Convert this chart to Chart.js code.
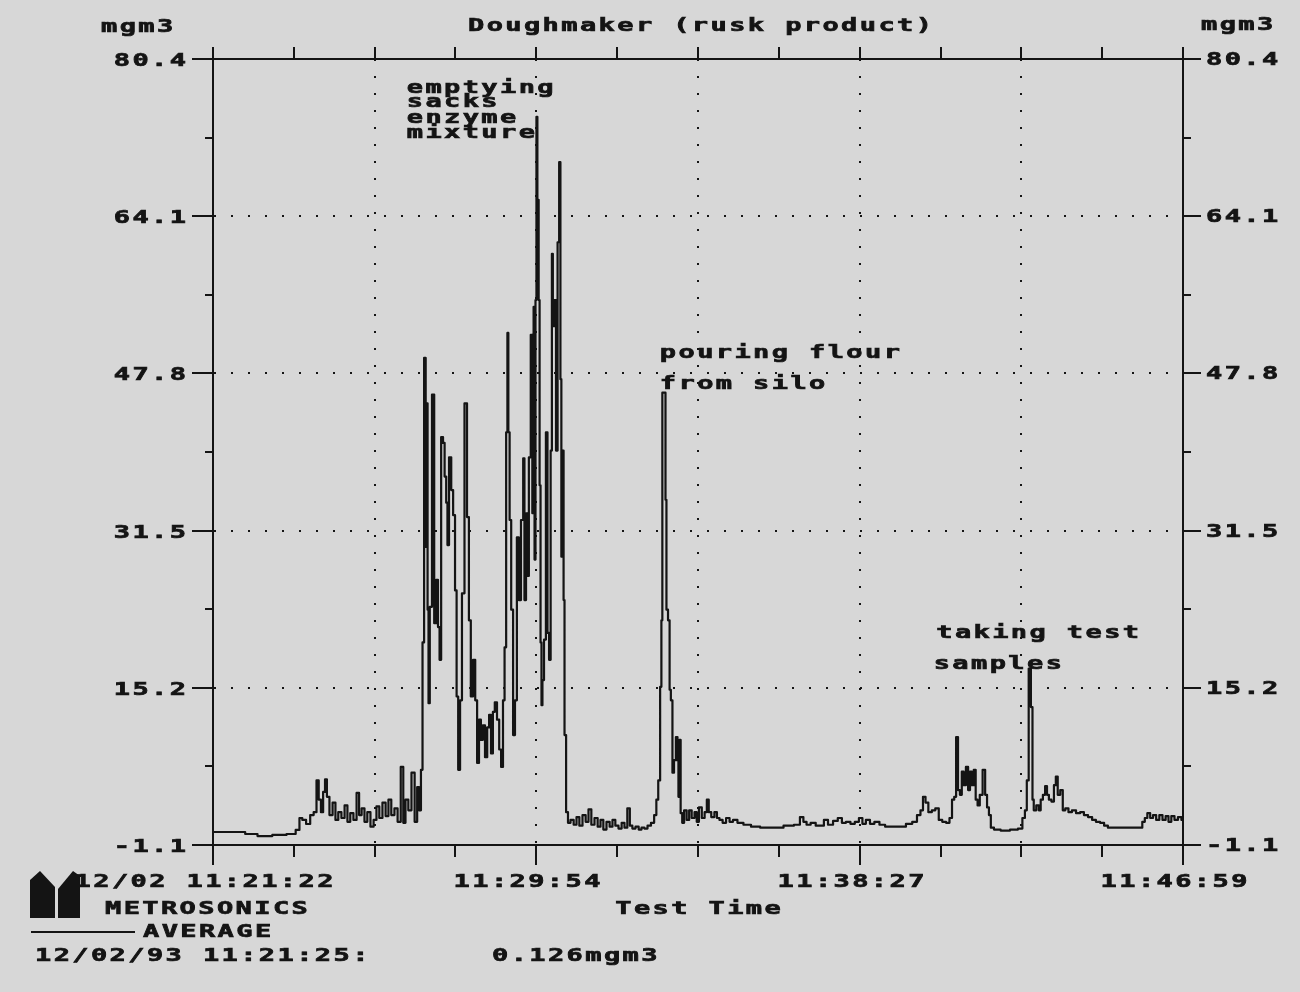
<!DOCTYPE html>
<html>
<head>
<meta charset="utf-8">
<title>Doughmaker (rusk product)</title>
<script src="https://cdn.jsdelivr.net/npm/chart.js@4.4.1/dist/chart.umd.min.js"></script>
<style>
  html, body { margin: 0; padding: 0; background: #d7d7d7; overflow: hidden; }
  #wrap { width: 1300px; height: 992px; position: relative; }
</style>
</head>
<body>
<div id="wrap"><canvas id="dustChart"></canvas></div>
<script>
// Metrosonics dust log - doughmaker, rusk product, 12/02/93 from 11:21:22
// seconds since start of the log
const elapsedSeconds = [
  0, 43, 59, 82, 106, 127, 135, 139, 144, 151,
  157, 162, 166, 169, 173, 176, 179, 182, 187, 192,
  196, 201, 206, 211, 215, 220, 225, 230, 233, 238,
  242, 247, 252, 257, 261, 266, 271, 276, 280, 285,
  290, 295, 300, 303, 307, 312, 317, 322, 325, 328,
  331, 333, 336, 338, 339, 341, 342, 345, 349, 352,
  355, 358, 360, 363, 366, 368, 371, 372, 376, 379,
  382, 385, 387, 390, 393, 396, 401, 404, 407, 410,
  414, 417, 420, 423, 426, 429, 433, 436, 439, 442,
  445, 448, 452, 455, 458, 461, 463, 466, 467, 469,
  471, 474, 477, 480, 483, 486, 490, 493, 494, 498,
  499, 502, 505, 507, 509, 510, 512, 513, 515, 517,
  518, 520, 521, 523, 526, 529, 531, 534, 536, 538,
  539, 542, 545, 547, 550, 551, 553, 555, 556, 558,
  561, 564, 569, 574, 578, 583, 588, 593, 597, 602,
  607, 612, 616, 621, 626, 631, 635, 640, 645, 650,
  654, 659, 662, 667, 672, 677, 681, 686, 691, 697,
  701, 704, 707, 710, 711, 713, 716, 718, 719, 723,
  724, 727, 729, 732, 735, 737, 738, 740, 742, 745,
  748, 753, 756, 761, 765, 768, 772, 777, 781, 784,
  787, 792, 797, 800, 805, 810, 816, 821, 827, 835,
  846, 859, 875, 894, 914, 927, 933, 938, 943, 951,
  959, 965, 971, 978, 987, 993, 1000, 1006, 1014, 1020,
  1027, 1031, 1038, 1044, 1052, 1060, 1070, 1081, 1092, 1104,
  1112, 1119, 1123, 1127, 1131, 1136, 1142, 1147, 1153, 1158,
  1165, 1169, 1173, 1176, 1179, 1182, 1185, 1188, 1191, 1195,
  1198, 1201, 1204, 1207, 1210, 1213, 1217, 1222, 1225, 1228,
  1231, 1234, 1241, 1255, 1271, 1280, 1285, 1288, 1291, 1294,
  1298, 1299, 1302, 1307, 1310, 1313, 1317, 1320, 1323, 1326,
  1331, 1334, 1337, 1340, 1345, 1348, 1353, 1358, 1364, 1371,
  1377, 1383, 1390, 1396, 1402, 1409, 1415, 1421, 1434, 1453,
  1470, 1475, 1478, 1483, 1487, 1492, 1497, 1502, 1507, 1512,
  1516, 1521, 1526, 1532, 1537
];

// dust concentration, mgm3
const dustMgm3 = [
  0.25, 0.25, 0.04, -0.17, -0.06, 0.04, 0.46, 1.7, 1.5, 1.08,
  2.0, 2.3, 5.6, 3.6, 2.3, 4.4, 5.7, 3.9, 2.0, 3.3,
  1.5, 2.3, 1.7, 3.0, 1.3, 2.2, 1.5, 4.3, 2.0, 2.7,
  1.3, 2.3, 0.8, 1.5, 2.9, 1.7, 3.3, 1.9, 3.6, 2.0,
  2.7, 1.3, 7.0, 1.2, 3.6, 2.5, 6.4, 1.3, 4.9, 2.5,
  6.7, 19.9, 49.4, 29.8, 44.7, 23.3, 13.6, 23.6, 45.6, 21.9,
  26.4, 21.5, 18.1, 41.2, 40.6, 37.1, 34.4, 30.0, 39.1, 35.7,
  33.1, 25.3, 14.3, 6.7, 13.9, 25.0, 44.7, 32.9, 22.2, 14.3,
  18.1, 13.9, 7.4, 11.9, 9.8, 11.3, 8.0, 11.1, 12.4, 8.4,
  12.7, 13.7, 11.9, 8.8, 7.0, 13.9, 19.4, 41.7, 52.0, 41.7,
  32.6, 23.3, 10.3, 13.9, 30.8, 24.3, 32.6, 39.0, 24.3, 33.3,
  26.8, 39.1, 51.8, 33.3, 54.7, 28.5, 55.4, 74.4, 65.8, 55.4,
  36.2, 19.9, 13.4, 16.0, 20.2, 41.7, 20.9, 18.1, 39.8, 60.2,
  52.7, 55.4, 39.8, 61.4, 69.7, 47.2, 28.8, 39.8, 24.3, 10.3,
  2.3, 1.2, 1.5, 1.0, 1.8, 0.9, 2.0, 1.3, 2.6, 1.0,
  1.7, 0.8, 1.5, 0.5, 1.3, 0.8, 1.5, 0.9, 0.6, 1.2,
  0.7, 2.7, 0.9, 0.6, 0.8, 0.5, 0.7, 0.6, 0.9, 1.2,
  2.0, 3.6, 5.6, 15.3, 22.2, 45.8, 45.8, 34.7, 23.3, 22.2,
  15.0, 13.9, 6.4, 7.7, 10.1, 7.7, 3.9, 9.8, 2.2, 1.2,
  2.5, 1.5, 2.5, 1.7, 2.3, 1.3, 2.8, 1.7, 2.3, 3.6,
  2.3, 1.8, 2.3, 1.7, 1.5, 1.2, 1.7, 1.3, 1.5, 1.2,
  1.0, 0.8, 0.7, 0.7, 0.9, 1.0, 1.8, 1.3, 1.0, 1.2,
  0.9, 0.9, 1.5, 1.0, 1.4, 1.7, 1.2, 1.3, 1.1, 1.3,
  1.7, 1.1, 1.5, 1.1, 1.3, 1.0, 0.8, 0.8, 0.8, 1.1,
  1.3, 2.0, 2.5, 3.9, 3.3, 2.3, 2.5, 2.7, 1.5, 1.3,
  1.2, 1.7, 3.6, 3.9, 10.1, 4.6, 4.1, 6.5, 5.1, 7.0,
  4.6, 6.5, 5.1, 6.7, 3.6, 3.0, 4.1, 6.7, 4.1, 2.8,
  2.0, 0.7, 0.5, 0.4, 0.5, 0.6, 1.7, 2.5, 5.6, 17.2,
  13.2, 3.6, 2.5, 3.0, 2.5, 3.6, 4.1, 5.0, 4.1, 3.6,
  3.4, 5.1, 6.0, 4.1, 4.6, 2.5, 2.7, 2.3, 2.5, 2.2,
  2.3, 2.0, 1.8, 1.5, 1.3, 1.2, 0.9, 0.7, 0.7, 0.7,
  0.7, 1.3, 1.7, 2.2, 1.7, 2.0, 1.5, 2.0, 1.5, 1.9,
  1.3, 1.9, 1.5, 1.8, 1.5
];

const yTicks = [-1.1, 7.05, 15.2, 23.35, 31.5, 39.65, 47.8, 55.95, 64.1, 72.25, 80.4];
const yTickLabels = ['-1.1', '', '15.2', '', '31.5', '', '47.8', '', '64.1', '', '80.4'];
const xTicks = [0, 128, 256, 384, 512, 640, 769, 897, 1025, 1153, 1281, 1409, 1537];
const xTickLabels = ['12/02 11:21:22', '', '', '', '11:29:54', '', '', '', '11:38:27', '', '', '', '11:46:59'];

// notes written on the trace: text, seconds, mgm3 (left end of baseline)
const notes = [
  ['emptying', 307, 76.9],
  ['sacks', 307, 75.4],
  ['enzyme', 307, 73.8],
  ['mixture', 307, 72.2],
  ['pouring flour', 708, 49.4],
  ['from silo', 708, 46.2],
  ['taking test', 1146, 20.4],
  ['samples', 1142, 17.1]
];

const INK = '#141414';
const PAPER = '#d7d7d7';
const FONT = "'DejaVu Sans Mono', 'Liberation Mono', monospace";
const TEXT_PX = 18;
const GAP = 1.6;      // letter spacing before stretch
const STRETCH = 1.5;  // the plotter font is wide

// plotter style text: wide, heavy, spaced out; aligned on visible glyphs
function plotText(ctx, str, x, base, align) {
  ctx.save();
  ctx.font = `bold ${TEXT_PX}px ${FONT}`;
  ctx.letterSpacing = GAP + 'px';
  ctx.textAlign = 'left';
  ctx.textBaseline = 'alphabetic';
  ctx.fillStyle = INK;
  ctx.strokeStyle = INK;
  ctx.lineWidth = 0.7;
  const w = (ctx.measureText(str).width - GAP) * STRETCH;
  const left = align === 'right' ? x - w : align === 'center' ? x - w / 2 : x;
  ctx.translate(left, base);
  ctx.scale(STRETCH, 1);
  ctx.fillText(str, 0, 0);
  ctx.strokeText(str, 0, 0);
  ctx.restore();
}

const dotGrid = (count) => (c) =>
  (c.index % 2 === 0 && c.index > 0 && c.index < count - 1) ? INK : 'rgba(0,0,0,0)';

const plotterSheet = {
  id: 'plotterSheet',
  beforeDraw(chart) {
    const { ctx, width, height } = chart;
    ctx.save();
    ctx.fillStyle = PAPER;
    ctx.fillRect(0, 0, width, height);
    ctx.restore();
  },
  afterDraw(chart) {
    const { ctx, chartArea: a, scales: { x, y } } = chart;
    ctx.save();
    ctx.strokeStyle = INK;
    ctx.fillStyle = INK;
    ctx.lineWidth = 2;
    const seg = (x1, y1, x2, y2) => { ctx.beginPath(); ctx.moveTo(x1, y1); ctx.lineTo(x2, y2); ctx.stroke(); };

    // top frame + tick marks
    seg(a.left - 1, a.top, a.right + 1, a.top);
    x.ticks.forEach((t, i) => {
      const px = Math.round(x.getPixelForValue(t.value));
      seg(px, a.top - 12, px, a.top);
      seg(px, a.bottom, px, a.bottom + (i % 4 === 0 ? 20 : 12));
      if (xTickLabels[i]) plotText(ctx, xTickLabels[i], px - 9, a.bottom + 42, 'center');
    });
    y.ticks.forEach((t, i) => {
      const py = Math.round(y.getPixelForValue(t.value));
      const major = i % 2 === 0;
      seg(a.left - (major ? 21 : 8), py, a.left, py);
      seg(a.right, py, a.right + (major ? 18 : 8), py);
      if (yTickLabels[i]) {
        plotText(ctx, yTickLabels[i], a.left - 27, py + 7, 'right');
        plotText(ctx, yTickLabels[i], a.right + 23, py + 6, 'left');
      }
    });

    // headings and footer
    plotText(ctx, 'mgm3', 101, 32, 'left');
    plotText(ctx, 'Doughmaker (rusk product)', 468, 31, 'left');
    plotText(ctx, 'mgm3', 1201, 30, 'left');
    plotText(ctx, 'Test Time', (a.left + a.right) / 2, 914, 'center');
    plotText(ctx, 'METROSONICS', 105, 914, 'left');
    plotText(ctx, 'AVERAGE', 143, 937, 'left');
    plotText(ctx, '12/02/93 11:21:25:', 35, 961, 'left');
    plotText(ctx, '0.126mgm3', 492, 961, 'left');
    seg(31, 932, 135, 932);

    // notes on the trace
    notes.forEach(([txt, s, v]) => plotText(ctx, txt, x.getPixelForValue(s), y.getPixelForValue(v), 'left'));

    // logo
    ctx.beginPath();
    ctx.moveTo(30, 880); ctx.lineTo(40, 871); ctx.lineTo(55, 887); ctx.lineTo(55, 918); ctx.lineTo(30, 918);
    ctx.closePath(); ctx.fill();
    ctx.beginPath();
    ctx.moveTo(58, 889); ctx.lineTo(73, 871); ctx.lineTo(80, 876); ctx.lineTo(80, 918); ctx.lineTo(58, 918);
    ctx.closePath(); ctx.fill();
    ctx.restore();
  }
};

new Chart(document.getElementById('dustChart'), {
  type: 'line',
  data: {
    datasets: [{
      label: 'mgm3',
      data: elapsedSeconds.map((s, i) => ({ x: s, y: dustMgm3[i] })),
      borderColor: INK,
      borderWidth: 2.2,
      borderJoinStyle: 'round',
      stepped: 'middle',
      pointRadius: 0,
      fill: false,
      yAxisID: 'y'
    }]
  },
  options: {
    responsive: true,
    maintainAspectRatio: false,
    animation: false,
    events: [],
    layout: { padding: { top: 59, left: 0, right: 0, bottom: 0 } },
    plugins: { legend: { display: false }, tooltip: { enabled: false }, title: { display: false } },
    scales: {
      x: {
        type: 'linear', min: 0, max: 1537,
        afterBuildTicks: s => { s.ticks = xTicks.map(v => ({ value: v })); },
        afterFit: s => { s.height = 147; },
        ticks: { display: false },
        grid: { drawTicks: false, lineWidth: 2, color: dotGrid(xTicks.length) },
        border: { color: INK, width: 2, dash: [2, 15] }
      },
      y: {
        position: 'left', min: -1.1, max: 80.4,
        afterBuildTicks: s => { s.ticks = yTicks.map(v => ({ value: v })); },
        afterFit: s => { s.width = 213; },
        ticks: { display: false },
        grid: { drawTicks: false, lineWidth: 2, color: dotGrid(yTicks.length) },
        border: { color: INK, width: 2, dash: [2, 15] }
      },
      y2: {
        position: 'right', min: -1.1, max: 80.4,
        afterFit: s => { s.width = 117; },
        ticks: { display: false },
        grid: { drawTicks: false, drawOnChartArea: false },
        border: { color: INK, width: 2 }
      }
    }
  },
  plugins: [plotterSheet]
});
</script>
</body>
</html>
